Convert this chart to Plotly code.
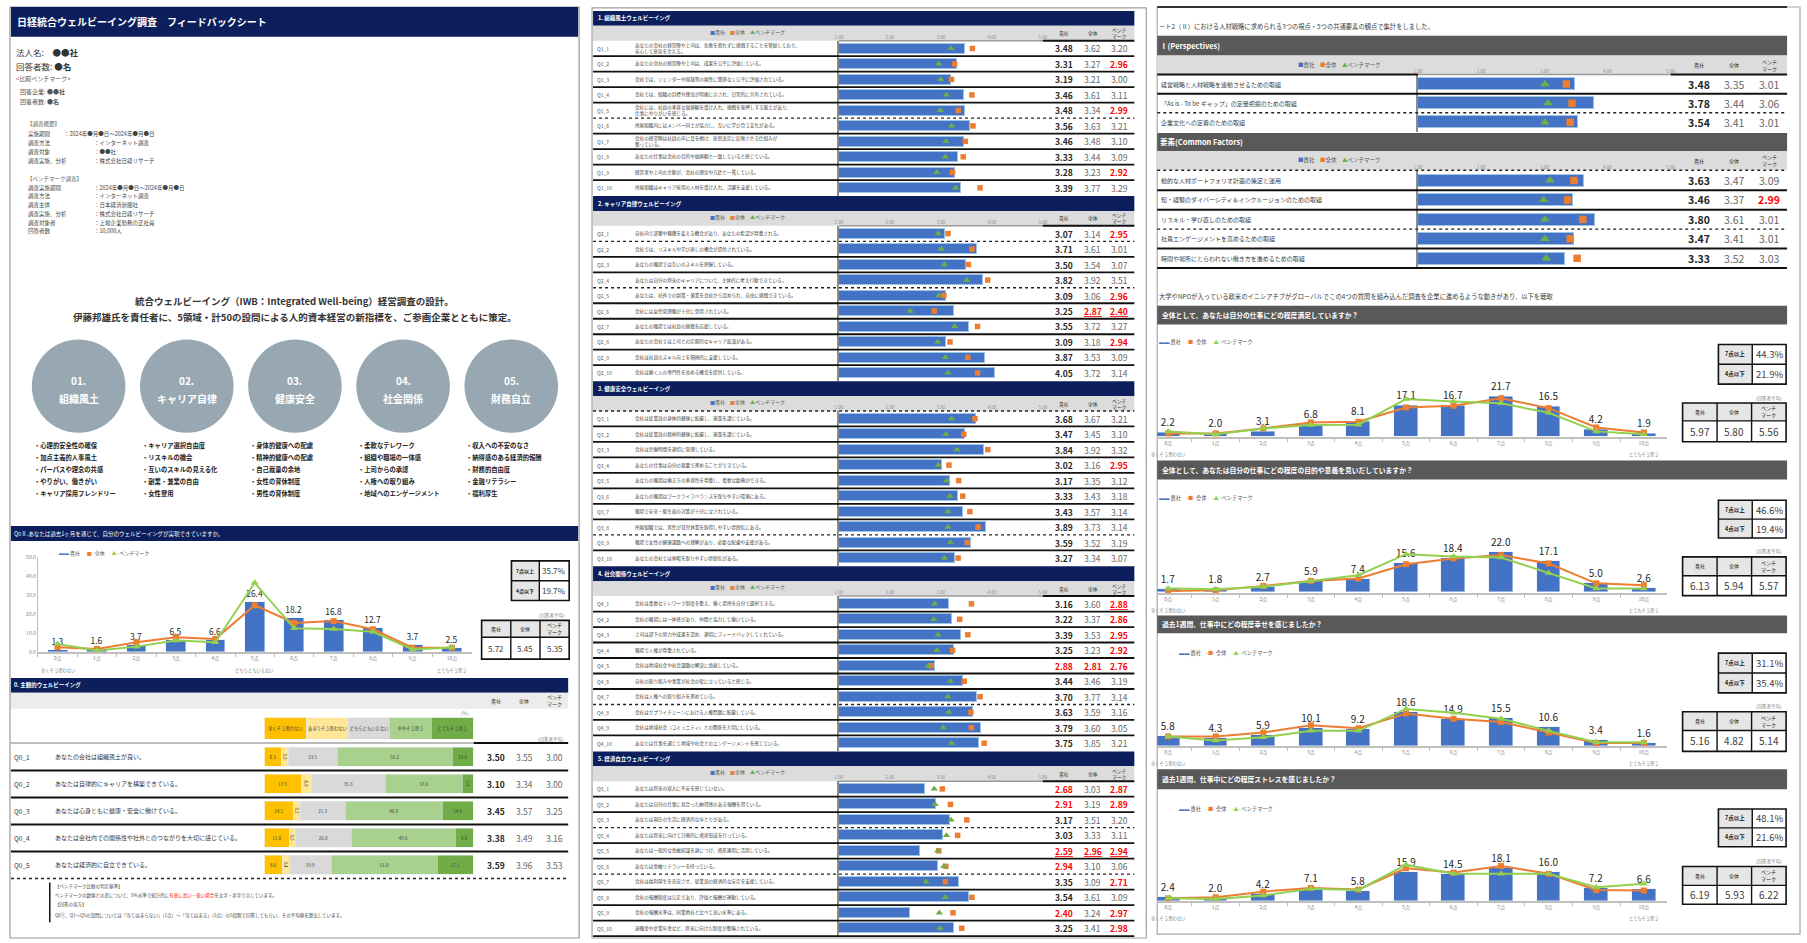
import plotly.graph_objects as go

W, H = 1807, 943
FONT = "Noto Sans CJK JP"
NAVY = "#0c1f5c"
DGRAY = "#595959"
LGRAY = "#dcdcdc"
BLUE = "#4472c4"
ORANGE = "#ed7d31"
GREEN_T = "#70ad47"
GREEN_L = "#92d050"
RED = "#ff0000"

# ============================ DATA ============================
# ---- page 1 : profile ----
header_title = "日経統合ウェルビーイング調査　フィードバックシート"
company_name = "●●社"
respondents = "●名"
bench_companies = "●●社"
bench_respondents = "●名"
outline_keys = ["実施期間", "調査方法", "調査対象", "調査実施、分析"]
outline_vals = ["2024年●月●日～2024年●月●日", "インターネット調査", "●●社", "株式会社日経リサーチ"]
bench_keys = ["調査実施期間", "調査方法", "調査主体", "調査実施、分析", "調査対象者", "回答者数"]
bench_vals = ["2024年●月●日～2024年●月●日", "インターネット調査", "日本経済新聞社", "株式会社日経リサーチ",
              "上場企業勤務の正社員", "10,000人"]
headline_1 = "統合ウェルビーイング（IWB：Integrated Well-being）経営調査の設計。"
headline_2 = "伊藤邦雄氏を責任者に、5領域・計50の設問による人的資本経営の新指標を、ご参画企業とともに策定。"

domain_numbers = ["01.", "02.", "03.", "04.", "05."]
domain_names = ["組織風土", "キャリア自律", "健康安全", "社会関係", "財務自立"]
domain_items_1 = ["心理的安全性の確保", "加点主義的人事風土", "パーパスや理念の共感", "やりがい、働きがい", "キャリア採用フレンドリー"]
domain_items_2 = ["キャリア選択自由度", "リスキルの機会", "互いのスキルの見える化", "副業・兼業の自由", "女性登用"]
domain_items_3 = ["身体的健康への配慮", "精神的健康への配慮", "自己裁量の余地", "女性の育休制度", "男性の育休制度"]
domain_items_4 = ["柔軟なテレワーク", "組織や職場の一体感", "上司からの承認", "人権への取り組み", "地域へのエンゲージメント"]
domain_items_5 = ["収入への不安のなさ", "納得感のある経済的報酬", "財務的自由度", "金融リテラシー", "福利厚生"]

# ---- page 1 : Q0 distribution ----
q0_title = "Q0Ⅱ.あなたは過去1ヶ月を通じて、自分のウェルビーイングが実現できていますか。"
score_ticks = ["0点", "1点", "2点", "3点", "4点", "5点", "6点", "7点", "8点", "9点", "10点"]
q0_company = [1.3, 1.6, 3.7, 6.5, 6.6, 26.4, 18.2, 16.8, 12.7, 3.7, 2.5]
q0_total = [2.6, 1.7, 5.2, 7.8, 6.9, 24.6, 15.3, 16.3, 12.0, 2.3, 2.3]
q0_bench = [4.3, 0.9, 2.9, 6.1, 5.2, 36.4, 12.5, 12.1, 10.7, 1.4, 2.4]
q0_yticks = [0, 10, 20, 30, 40, 50]
q0_share = ["35.7%", "19.7%"]
q0_avg = [5.72, 5.45, 5.35]
share_labels = ["7点以上", "4点以下"]
col_headers = ["貴社", "全体", "ベンチ<br>マーク"]
legend_names = ["貴社", "全体", "ベンチマーク"]

# ---- page 1 : subjective well-being (5 questions) ----
sub_title = "0. 主観的ウェルビーイング"
likert_labels = ["全くそう思わない", "あまりそう思わない", "どちらともいえない", "ややそう思う", "とてもそう思う"]
sub_ids = ["Q0_1", "Q0_2", "Q0_3", "Q0_4", "Q0_5"]
sub_questions = ["あなたの会社は組織風土が良い。",
                 "あなたは自律的にキャリアを構築できている。",
                 "あなたは心身ともに健康・安全に働けている。",
                 "あなたは会社内での関係性や社外とのつながりを大切に感じている。",
                 "あなたは経済的に自立できている。"]
sub_dist_1 = [8.3, 17.5, 14.1, 11.8, 8.6]
sub_dist_2 = [3.0, 4.9, 3.2, 3.0, 3.4]
sub_dist_3 = [23.5, 35.3, 21.3, 26.8, 19.9]
sub_dist_4 = [55.2, 37.0, 46.8, 49.6, 51.0]
sub_dist_5 = [10.0, 5.3, 14.6, 8.8, 17.1]
sub_company = [3.50, 3.10, 3.45, 3.38, 3.59]
sub_total = [3.55, 3.34, 3.57, 3.49, 3.96]
sub_bench = [3.00, 3.00, 3.25, 3.16, 3.53]

# ---- page 2 : five domains x 10 questions ----
bar_ticks = ["1.00", "2.00", "3.00", "4.00", "5.00"]
s1_title = "1. 組織風土ウェルビーイング"
s1_questions = ["あなたの会社の経営陣や上司は、失敗を恐れずに挑戦することを奨励しており、<br>安心して意見を言える。",
                "あなたの会社の経営陣や上司は、成果を公平に評価している。",
                "会社では、ジェンダーや国籍等の属性に関係なく公平に評価されている。",
                "会社では、組織の目標や理念が明確に示され、日常的に共有されている。",
                "会社には、社員の多様な価値観を受け入れ、挑戦を後押しする風土があり、<br>仕事にやりがいを感じる。",
                "所属組織内にはメンバー同士が協力し、互いに学び合う文化がある。",
                "会社の経営陣は社員の声に耳を傾け、意思決定に反映させる仕組みが<br>整っている。",
                "あなたの仕事は会社の目的や価値観と一致していると感じている。",
                "経営者や上司の言動が、会社の理念や方針と一貫している。",
                "所属組織はキャリア採用の人材を受け入れ、活躍を支援している。"]
s1_company = [3.48, 3.31, 3.19, 3.46, 3.48, 3.56, 3.46, 3.33, 3.28, 3.39]
s1_total = [3.62, 3.27, 3.21, 3.61, 3.34, 3.63, 3.48, 3.44, 3.23, 3.77]
s1_bench = [3.20, 2.96, 3.00, 3.11, 2.99, 3.21, 3.10, 3.09, 2.92, 3.29]

s2_title = "2. キャリア自律ウェルビーイング"
s2_questions = ["自社内で部署や職種を変える機会があり、あなたの希望が尊重される。",
                "会社では、リスキルや学び直しの機会が提供されている。",
                "あなたの職場では互いのスキルを把握している。",
                "あなたは自分の将来のキャリアについて、主体的に考え行動できている。",
                "あなたは、社外での副業・兼業を会社から認められ、自由に挑戦できている。",
                "会社には女性管理職が十分に登用されている。",
                "あなたの職場では社員の挑戦を応援している。",
                "あなたの会社では上司との定期的なキャリア面談がある。",
                "会社は社員のスキル向上を積極的に支援している。",
                "会社は働く人の専門性を高める機会を提供している。"]
s2_company = [3.07, 3.71, 3.50, 3.82, 3.09, 3.25, 3.55, 3.09, 3.87, 4.05]
s2_total = [3.14, 3.61, 3.54, 3.92, 3.06, 2.87, 3.72, 3.18, 3.53, 3.72]
s2_bench = [2.95, 3.01, 3.07, 3.51, 2.96, 2.40, 3.27, 2.94, 3.09, 3.14]

s3_title = "3. 健康安全ウェルビーイング"
s3_questions = ["会社は従業員の身体的健康に配慮し、施策を講じている。",
                "会社は従業員の精神的健康に配慮し、施策を講じている。",
                "会社は労働時間を適切に管理している。",
                "あなたの仕事は自分の裁量で進めることができている。",
                "あなたの職場は働き方の多様性を尊重し、柔軟な勤務ができる。",
                "あなたの職場はワークライフバランスを保ちやすい環境にある。",
                "職場で安全・衛生面の対策が十分になされている。",
                "所属組織では、男性が育児休業を取得しやすい雰囲気にある。",
                "職場で女性の健康課題への理解があり、必要な配慮や支援がある。",
                "あなたの会社では休暇を取りやすい雰囲気がある。"]
s3_company = [3.68, 3.47, 3.84, 3.02, 3.17, 3.33, 3.43, 3.89, 3.59, 3.27]
s3_total = [3.67, 3.45, 3.92, 3.16, 3.35, 3.43, 3.57, 3.73, 3.52, 3.34]
s3_bench = [3.21, 3.10, 3.32, 2.95, 3.12, 3.18, 3.14, 3.14, 3.19, 3.07]

s4_title = "4. 社会関係ウェルビーイング"
s4_questions = ["会社は柔軟なテレワーク制度を整え、働く場所を自分で選択できる。",
                "会社の職場には一体感があり、仲間と協力して働いている。",
                "上司は部下の努力や成果を認め、適切にフィードバックしてくれている。",
                "職場で人権が尊重されている。",
                "会社は地域社会や社会課題の解決に貢献している。",
                "自社の取り組みや事業が社会の役に立っていると感じる。",
                "会社は人権への取り組みを進めている。",
                "会社はサプライチェーンにおける人権問題に配慮している。",
                "会社は地域社会（コミュニティ）との関係を大切にしている。",
                "あなたは仕事を通じて地域や社会とのエンゲージメントを感じている。"]
s4_company = [3.16, 3.22, 3.39, 3.25, 2.88, 3.44, 3.70, 3.63, 3.79, 3.75]
s4_total = [3.60, 3.37, 3.53, 3.23, 2.81, 3.46, 3.77, 3.59, 3.60, 3.85]
s4_bench = [2.88, 2.86, 2.95, 2.92, 2.76, 3.19, 3.14, 3.16, 3.05, 3.21]

s5_title = "5. 経済自立ウェルビーイング"
s5_questions = ["あなたは将来の収入に不安を感じていない。",
                "あなたは自分の仕事に見合った納得感のある報酬を得ている。",
                "あなたは現在の生活に経済的なゆとりがある。",
                "あなたは将来に向けて計画的に資産形成を行っている。",
                "あなたは一般的な金融知識を身につけ、資産運用に活用している。",
                "あなたは金融リテラシーを持っている。",
                "会社は福利厚生を充実させ、従業員の経済的な安定を支援している。",
                "会社の報酬制度は公正であり、評価と報酬が連動している。",
                "会社の報酬水準は、同業他社と比べて高い水準にある。",
                "退職金や企業年金など、将来に向けた制度が整備されている。"]
s5_company = [2.68, 2.91, 3.17, 3.03, 2.59, 2.94, 3.35, 3.54, 2.40, 3.25]
s5_total = [3.03, 3.19, 3.51, 3.33, 2.96, 3.10, 3.09, 3.61, 3.24, 3.41]
s5_bench = [2.87, 2.89, 3.20, 3.11, 2.94, 3.06, 2.71, 3.09, 2.97, 2.98]

underline_marks = [("2", 5, 1), ("2", 5, 2), ("4", 0, 2), ("5", 4, 0), ("5", 4, 1), ("5", 4, 2)]

# ---- page 3 ----
intro_1 = "ート2（Ⅱ）における人材戦略に求められる3つの視点・5つの共通要素の観点で集計をしました。"
persp_title = "Ⅰ(Perspectives)"
persp_labels = ["経営戦略と人材戦略を連動させるための取組",
                "「As is - To be ギャップ」の定量把握のための取組",
                "企業文化への定着のための取組"]
persp_company = [3.48, 3.78, 3.54]
persp_total = [3.35, 3.44, 3.41]
persp_bench = [3.01, 3.06, 3.01]
common_title = "要素(Common Factors)"
common_labels = ["動的な人材ポートフォリオ計画の策定と運用",
                 "知・経験のダイバーシティ＆インクルージョンのための取組",
                 "リスキル・学び直しのための取組",
                 "社員エンゲージメントを高めるための取組",
                 "時間や場所にとらわれない働き方を進めるための取組"]
common_company = [3.63, 3.46, 3.80, 3.47, 3.33]
common_total = [3.47, 3.37, 3.61, 3.41, 3.52]
common_bench = [3.09, 2.99, 3.01, 3.01, 3.03]
intro_2 = "大学やNPOが入っている欧米のイニシアチブがグローバルでこの4つの質問を組み込んだ調査を企業に進めるような動きがあり、以下を聴取"

c1_title = "全体として、あなたは自分の仕事にどの程度満足していますか？"
c1_company = [2.2, 2.0, 3.1, 6.8, 8.1, 17.1, 16.7, 21.7, 16.5, 4.2, 1.9]
c1_total = [1.8, 1.8, 4.5, 7.7, 8.1, 15.8, 16.7, 20.8, 15.4, 5.0, 2.3]
c1_bench = [2.9, 1.4, 4.5, 6.3, 6.5, 20.3, 19.0, 18.0, 12.9, 2.9, 1.4]
c1_share = ["44.3%", "21.9%"]
c1_avg = [5.97, 5.80, 5.56]

c2_title = "全体として、あなたは自分の仕事にどの程度の目的や意義を見いだしていますか？"
c2_company = [1.7, 1.8, 2.7, 5.9, 7.4, 15.6, 18.4, 22.0, 17.1, 5.0, 2.6]
c2_total = [0.9, 1.3, 3.6, 6.3, 7.6, 15.3, 18.4, 20.2, 15.7, 5.0, 4.0]
c2_bench = [2.2, 1.8, 3.1, 6.3, 9.4, 20.7, 19.5, 18.9, 10.5, 2.2, 2.2]
c2_share = ["46.6%", "19.4%"]
c2_avg = [6.13, 5.94, 5.57]

c3_title = "過去1週間、仕事中にどの程度幸せを感じましたか？"
c3_company = [5.8, 4.3, 5.9, 10.1, 9.2, 18.6, 14.9, 15.5, 10.6, 3.4, 1.6]
c3_total = [5.4, 5.4, 7.5, 11.4, 9.8, 17.7, 14.9, 13.2, 7.5, 1.9, 1.9]
c3_bench = [5.4, 3.2, 4.9, 8.4, 8.4, 20.2, 18.1, 14.9, 8.4, 2.3, 2.3]
c3_share = ["31.1%", "35.4%"]
c3_avg = [5.16, 4.82, 5.14]

c4_title = "過去1週間、仕事中にどの程度ストレスを感じましたか？"
c4_company = [2.4, 2.0, 4.2, 7.1, 5.8, 15.9, 14.5, 18.1, 16.0, 7.2, 6.6]
c4_total = [1.6, 2.2, 5.2, 7.2, 6.3, 17.8, 15.5, 19.0, 14.8, 6.1, 5.8]
c4_bench = [1.6, 1.3, 3.1, 6.7, 6.1, 19.6, 14.8, 14.8, 14.8, 7.6, 9.4]
c4_share = ["48.1%", "21.6%"]
c4_avg = [6.19, 5.93, 6.22]

# ============================ HELPERS ============================
shapes, annos, traces, axes = [], [], [], {}
_n = [0]


def T(x, y, s, size=6, color="#333333", xa="left", ya="middle", bold=False, xref="paper"):
    if bold:
        s = "<b>" + s + "</b>"
    annos.append(dict(x=(x / W if xref == "paper" else x), y=1 - y / H, xref=xref, yref="paper", text=s,
                      showarrow=False, xanchor=xa, yanchor=ya, borderpad=0,
                      align={"left": "left", "right": "right"}.get(xa, "center"),
                      font=dict(size=size, color=color, family=FONT)))


def R(x0, y0, x1, y1, fill="rgba(0,0,0,0)", line="rgba(0,0,0,0)", lw=0, layer="below"):
    shapes.append(dict(type="rect", xref="paper", yref="paper", x0=x0 / W, x1=x1 / W, y0=1 - y1 / H,
                       y1=1 - y0 / H, fillcolor=fill, line=dict(color=line, width=lw), layer=layer))


def L(x0, y0, x1, y1, color="#000000", lw=1, dash="solid", layer="above"):
    shapes.append(dict(type="line", xref="paper", yref="paper", x0=x0 / W, x1=x1 / W, y0=1 - y0 / H,
                       y1=1 - y1 / H, line=dict(color=color, width=lw, dash=dash), layer=layer))


def C(cx, cy, r, fill):
    shapes.append(dict(type="circle", xref="paper", yref="paper", x0=(cx - r) / W, x1=(cx + r) / W,
                       y0=1 - (cy + r) / H, y1=1 - (cy - r) / H, fillcolor=fill, line=dict(width=0),
                       layer="below"))


def AX(xpx, ypx, xa, ya):
    _n[0] += 1
    s = "" if _n[0] == 1 else str(_n[0])
    bx = dict(domain=[xpx[0] / W, xpx[1] / W], anchor="y" + s, showgrid=False, zeroline=False, fixedrange=True)
    by = dict(domain=[1 - ypx[1] / H, 1 - ypx[0] / H], anchor="x" + s, showgrid=False, zeroline=False,
              fixedrange=True)
    bx.update(xa)
    by.update(ya)
    axes["xaxis" + s] = bx
    axes["yaxis" + s] = by
    return "x" + s, "y" + s


def legend_html():
    return ("<span style='color:%s'>▬▬</span> %s　<span style='color:%s'>-■-</span> %s　"
            "<span style='color:%s'>-▲-</span> %s" % (BLUE, legend_names[0], ORANGE, legend_names[1],
                                                      GREEN_L, legend_names[2]))


def legend_small():
    return ("<span style='color:%s'>■</span>%s　<span style='color:%s'>■</span>%s　"
            "<span style='color:%s'>▲</span>%s" % (BLUE, legend_names[0], ORANGE, legend_names[1],
                                                    GREEN_T, legend_names[2]))


def fmt(v):
    return "%.2f" % v


def table2(x0, xm, x1, y0, y1, values, lsize, vsize):
    ym = (y0 + y1) / 2
    R(x0, y0, xm, y1, fill="#e6e6e6")
    R(x0, y0, x1, y1, line="#111111", lw=1.6, layer="above")
    L(x0, ym, x1, ym, "#111111", 1.4)
    L(xm, y0, xm, y1, "#111111", 1.4)
    for i, (lab, val) in enumerate(zip(share_labels, values)):
        yc = y0 + (ym - y0) * (i + 0.5)
        T((x0 + xm) / 2, yc, lab, lsize, "#222222", "center", bold=True)
        T((xm + x1) / 2, yc, val, vsize, "#404040", "center")


def table3(x0, x1, y0, ys, y1, values, hsize, vsize):
    R(x0, y0, x1, ys, fill="#e6e6e6")
    R(x0, y0, x1, y1, line="#111111", lw=1.6, layer="above")
    L(x0, ys, x1, ys, "#111111", 1.4)
    cw = (x1 - x0) / 3
    for k in (1, 2):
        L(x0 + cw * k, y0, x0 + cw * k, y1, "#111111", 1.4)
    for k in range(3):
        T(x0 + cw * (k + 0.5), (y0 + ys) / 2, col_headers[k], hsize, "#222222", "center")
        T(x0 + cw * (k + 0.5), (ys + y1) / 2, fmt(values[k]), vsize, "#404040", "center")
    T(x1, y0 - 5, "（回答者平均）", 4.5, "#7f7f7f", "right")


def combo_chart(xpx, base, top, xrange, cats, comp, tot, bench, label_size, show_y):
    xr, yr = AX(xpx, (top, base),
                dict(type="category", categoryorder="array", categoryarray=cats, range=xrange,
                     showline=True, linecolor="#bfbfbf", linewidth=2, ticks="outside", tickson="boundaries",
                     ticklen=3, tickcolor="#bfbfbf", tickfont=dict(size=5, color="#7f7f7f", family=FONT)),
                dict(range=[0, 46 if not show_y else 50], visible=show_y, showline=show_y, linecolor="#bfbfbf",
                     tickvals=q0_yticks, ticktext=["%.1f" % v for v in q0_yticks],
                     tickfont=dict(size=5, color="#7f7f7f"), ticks=""))
    traces.append(go.Bar(x=cats, y=comp, xaxis=xr, yaxis=yr, marker=dict(color=BLUE), width=0.5,
                         texttemplate="%{y:.1f}", textposition="outside", cliponaxis=False,
                         textfont=dict(size=label_size, color="#262626", family=FONT)))
    traces.append(go.Scatter(x=cats, y=tot, xaxis=xr, yaxis=yr, mode="lines+markers", cliponaxis=False,
                             line=dict(color=ORANGE, width=2),
                             marker=dict(symbol="square", size=6, color=ORANGE)))
    traces.append(go.Scatter(x=cats, y=bench, xaxis=xr, yaxis=yr, mode="lines+markers", cliponaxis=False,
                             line=dict(color=GREEN_L, width=2),
                             marker=dict(symbol="triangle-up", size=7, color=GREEN_L)))
    return xr


def hbar_block(xpx, ypx, n, comp, tot, bench, bar_w, sq, tri):
    xr, yr = AX(xpx, ypx,
                dict(range=[1, 5], side="top", tickvals=[1, 2, 3, 4, 5], ticktext=bar_ticks, ticks="",
                     showline=False, tickfont=dict(size=4.5, color="#8c8c8c", family=FONT)),
                dict(range=[n - 0.5, -0.5], showticklabels=False, ticks="", showline=True,
                     linecolor="#8c8c8c", linewidth=1.5))
    rows = list(range(n))
    traces.append(go.Bar(x=comp, y=rows, orientation="h", xaxis=xr, yaxis=yr, width=bar_w,
                         marker=dict(color=BLUE, line=dict(color="#9dc3e6", width=1))))
    traces.append(go.Scatter(x=tot, y=rows, xaxis=xr, yaxis=yr, mode="markers", cliponaxis=False,
                             marker=dict(symbol="square", size=sq, color=ORANGE)))
    traces.append(go.Scatter(x=bench, y=rows, xaxis=xr, yaxis=yr, mode="markers", cliponaxis=False,
                             marker=dict(symbol="triangle-up", size=tri, color=GREEN_T)))


def value_text(x, y, v, size, first, ul=False):
    s = fmt(v)
    if ul:
        s = "<u>" + s + "</u>"
    if v < 3.0:
        col = RED
    else:
        col = "#262626" if first else "#666666"
    T(x, y, s, size, col, "center", bold=first or v < 3.0)


# ============================ PAGE 1 ============================
R(6, 3, 578, 941, line="#9a9a9a", lw=1.2)
R(7, 3, 577, 33, fill=NAVY)
T(12, 18, header_title, 10, "white", bold=True)
T(11, 48, "法人名:　<b>" + company_name + "</b>", 8.5, "#333333")
T(11, 62, "回答者数: <b>" + respondents + "</b>", 8.5, "#333333")
T(11, 75, "<比較ベンチマーク>", 6, "#555555")
T(15, 88, "回答企業: <b>" + bench_companies + "</b>", 6, "#555555")
T(15, 98, "回答者数: <b>" + bench_respondents + "</b>", 6, "#555555")
T(22, 121, "【調査概要】", 5.5, "#666666")
for i, (k, v) in enumerate(zip(outline_keys, outline_vals)):
    T(23, 131 + 9 * i, k, 5.5, "#444444")
    T(59 if i == 0 else 89, 131 + 9 * i, "：" + v, 5.5, "#444444")
T(22, 176, "【ベンチマーク調査】", 5.5, "#666666")
for i, (k, v) in enumerate(zip(bench_keys, bench_vals)):
    T(23, 185 + 8.8 * i, k, 5.5, "#444444")
    T(89, 185 + 8.8 * i, "：" + v, 5.5, "#444444")
T(292, 299, headline_1, 9.5, "#333333", "center", bold=True)
T(292, 315, headline_2, 9.5, "#333333", "center", bold=True)

domain_items = [domain_items_1, domain_items_2, domain_items_3, domain_items_4, domain_items_5]
for i in range(5):
    cx = 75 + 108.7 * i
    C(cx, 385, 47, "#97a8b2")
    T(cx, 379, domain_numbers[i], 10, "white", "center", bold=True)
    T(cx, 397, domain_names[i], 10, "white", "center", bold=True)
    for j, item in enumerate(domain_items[i]):
        T(cx - 46, 445 + 12 * j, "・" + item, 6.3, "#222222", bold=True)

# Q0 chart
R(7, 526, 577, 541, fill=NAVY)
T(9, 533.5, q0_title, 5.5, "white")
T(54, 553, legend_html(), 5, "#595959")
q0x = combo_chart((34, 470), 653, 557, [-0.5, 10.5], score_ticks, q0_company, q0_total, q0_bench, 8.5, True)
for cat, lab in ((score_ticks[0], likert_labels[0]), (score_ticks[5], likert_labels[2]), (score_ticks[10], likert_labels[4])):
    annos.append(dict(x=cat, y=1 - 667 / H, xref=q0x, yref="paper", text=lab, showarrow=False,
                      yanchor="top", borderpad=0, font=dict(size=4.3, color="#7f7f7f", family=FONT)))
table2(510, 538, 568, 561, 601, q0_share, 5, 8)
table3(480, 568, 621, 638, 660, q0_avg, 5, 8)

# subjective well-being block
R(7, 679, 567, 694, fill=NAVY)
T(9, 686.5, sub_title, 5.5, "white", bold=True)
R(7, 694, 567, 710, fill="#ececec")
for x, h in zip((494, 523, 553), col_headers):
    T(x, 702, h, 5, "#333333", "center")
T(470, 714, "（%）", 4.5, "#7f7f7f", "right")
likert_colors = ["#ffc000", "#ffe699", "#d9d9d9", "#a9d18e", "#70ad47"]
lx, ly = AX((262, 472), (719, 741), dict(range=[0, 100], visible=False), dict(range=[-0.5, 0.5], visible=False))
for lab, col in zip(likert_labels, likert_colors):
    traces.append(go.Bar(x=[100 / len(likert_labels)], y=[0], orientation="h", xaxis=lx, yaxis=ly, width=1,
                         marker=dict(color=col), text=[lab], texttemplate="%{text}", textposition="inside",
                         insidetextanchor="middle", constraintext="none",
                         textfont=dict(size=4.3, color="#404040", family=FONT)))
T(567, 741, "（回答者平均）", 4.5, "#7f7f7f", "right")
L(7, 744.5, 472, 744.5, "#a6a6a6", 1.5)
L(472, 744.5, 567, 744.5, "#111111", 2)
sx, sy = AX((262, 472), (745, 881), dict(range=[0, 100], visible=False),
            dict(range=[4.5, -0.5], visible=False))
for dist, col in zip([sub_dist_1, sub_dist_2, sub_dist_3, sub_dist_4, sub_dist_5], likert_colors):
    traces.append(go.Bar(x=dist, y=list(range(5)), orientation="h", xaxis=sx, yaxis=sy, width=0.74,
                         marker=dict(color=col), texttemplate="%{x:.1f}", textposition="inside",
                         insidetextanchor="middle", constraintext="none",
                         textfont=dict(size=4.5, color="#404040", family=FONT)))
row_h0 = (881 - 745) / 5
for i in range(5):
    yc = 745 + row_h0 * (i + 0.5)
    T(9, yc, sub_ids[i], 6.5, "#333333")
    T(50, yc, sub_questions[i], 6, "#333333")
    value_text(494, yc, sub_company[i], 8.5, True)
    value_text(523, yc, sub_total[i], 8.5, False)
    value_text(553, yc, sub_bench[i], 8.5, False)
    yb = 745 + row_h0 * (i + 1)
    if i < 4:
        L(7, yb, 567, yb, "#111111", 2)
    else:
        L(7, yb, 567, yb, "#222222", 1.5, "dot")
L(46, 885, 46, 925, "#111111", 1.5)
T(50, 889, "【ベンチマーク比較の判定基準】", 4.5, "#444444")
T(50, 898, "ベンチマークの数値との差について、5%水準で統計的に<span style='color:#ff0000'>有意に高い・低い場合</span>を太字・赤字で示しています。", 4.5, "#444444")
T(50, 907, "【回答の見方】", 4.5, "#444444")
T(50, 918, "Q0①、Q1～Q5の設問については「当てはまらない」（1点）～「当てはまる」（5点）の5段階で回答してもらい、その平均値を算出しています。", 4.5, "#444444")

# ============================ PAGE 2 ============================
R(591, 4, 1148, 941, line="#a0a0a0", lw=1.2)
sections = [
    ("1", s1_title, s1_questions, s1_company, s1_total, s1_bench, [4]),
    ("2", s2_title, s2_questions, s2_company, s2_total, s2_bench, [0, 3]),
    ("3", s3_title, s3_questions, s3_company, s3_total, s3_bench, [-1, 7]),
    ("4", s4_title, s4_questions, s4_company, s4_total, s4_bench, [6]),
    ("5", s5_title, s5_questions, s5_company, s5_total, s5_bench, [2, 5]),
]
ROW = 15.6
for k, (sid, title, qs, comp, tot, bench, dotted) in enumerate(sections):
    y0 = 7 + 186.5 * k
    R(592, y0, 1136, y0 + 15, fill=NAVY)
    T(596, y0 + 7.5, title, 5.5, "white", bold=True)
    R(592, y0 + 15, 1136, y0 + 30, fill=LGRAY)
    T(747, y0 + 21, legend_small(), 5, "#595959", "center")
    for x, h in zip((1065, 1094, 1121), col_headers):
        T(x, y0 + 22.5, h, 4.8, "#333333", "center")
    top = y0 + 30
    if -1 in dotted:
        L(592, top, 1136, top, "#222222", 1.4, "dot")
    else:
        L(839, top, 1044, top, "#9a9a9a", 1.5)
        L(1044, top, 1136, top, "#111111", 2)
    hbar_block((839, 1044), (top, top + 10 * ROW), 10, comp, tot, bench, 0.66, 5.5, 6.5)
    for j in range(10):
        yc = top + ROW * (j + 0.5)
        T(595, yc, "Q%s_%d" % (sid, j + 1), 5, "#555555")
        T(633, yc, qs[j], 4.6, "#444444")
        for c, (x, arr) in enumerate(zip((1065, 1094, 1121), (comp, tot, bench))):
            value_text(x, yc, arr[j], 8.5, c == 0, (sid, j, c) in underline_marks)
        yb = top + ROW * (j + 1)
        if j in dotted:
            L(592, yb, 1136, yb, "#222222", 1.4, "dot")
        elif j < 9 or k == 4:
            L(592, yb, 1136, yb, "#111111", 1.8)

# ============================ PAGE 3 ============================
R(1159, 3, 1805, 937, line="#a8a8a8", lw=1.2)
L(1159, 3, 1792, 3, "#333333", 2)
T(1160, 23, intro_1, 6.3, "#404040")

# perspectives
R(1159, 32, 1792, 52, fill=DGRAY)
T(1161, 42, persp_title, 7.5, "white", bold=True)
R(1159, 52, 1792, 71, fill=LGRAY)
T(1342, 61, legend_small(), 5.5, "#595959", "center")
for x, h in zip((1703, 1739, 1774), col_headers):
    T(x, 61.5, h, 5, "#333333", "center")
L(1159, 71, 1421, 71, "#111111", 2)
L(1421, 71, 1675, 71, "#9a9a9a", 1.5)
L(1675, 71, 1792, 71, "#111111", 2)
p_top, p_row = 71, 19.3
hbar_block((1421, 1675), (p_top, p_top + 3 * p_row), 3, persp_company, persp_total, persp_bench, 0.62, 7.5, 8.5)
for j in range(3):
    yc = p_top + p_row * (j + 0.5)
    T(1162, yc, persp_labels[j], 6, "#404040")
    for c, (x, arr) in enumerate(zip((1703, 1739, 1774), (persp_company, persp_total, persp_bench))):
        value_text(x, yc, arr[j], 10.5, c == 0)
    yb = p_top + p_row * (j + 1)
    if j == 0:
        L(1159, yb, 1792, yb, "#111111", 2)
    elif j == 1:
        L(1159, yb, 1792, yb, "#222222", 1.4, "dot")

# common factors
R(1159, 130, 1792, 148, fill=DGRAY)
T(1161, 139, common_title, 7.5, "white", bold=True)
R(1159, 148, 1792, 167, fill=LGRAY)
T(1342, 157.5, legend_small(), 5.5, "#595959", "center")
for x, h in zip((1703, 1739, 1774), col_headers):
    T(x, 158, h, 5, "#333333", "center")
L(1159, 167.5, 1792, 167.5, "#222222", 1.4, "dot")
c_top, c_row = 168, 19.6
hbar_block((1421, 1675), (c_top, c_top + 5 * c_row), 5, common_company, common_total, common_bench, 0.62, 7.5, 8.5)
for j in range(5):
    yc = c_top + c_row * (j + 0.5)
    T(1162, yc, common_labels[j], 6, "#404040")
    for c, (x, arr) in enumerate(zip((1703, 1739, 1774), (common_company, common_total, common_bench))):
        value_text(x, yc, arr[j], 10.5, c == 0)
    yb = c_top + c_row * (j + 1)
    if j == 2:
        L(1159, yb, 1792, yb, "#222222", 1.4, "dot")
    else:
        L(1159, yb, 1792, yb, "#111111", 2)

T(1160, 295, intro_2, 6.3, "#404040")

charts = [
    (c1_title, c1_company, c1_total, c1_bench, c1_share, c1_avg),
    (c2_title, c2_company, c2_total, c2_bench, c2_share, c2_avg),
    (c3_title, c3_company, c3_total, c3_bench, c3_share, c3_avg),
    (c4_title, c4_company, c4_total, c4_bench, c4_share, c4_avg),
]
chart_pos = [
    dict(bar=(304, 323), lx=1160, ly=341, base=436, t2=(343, 383), t3=(402, 420, 441)),
    dict(bar=(460, 479), lx=1160, ly=498, base=593, t2=(500, 538), t3=(557, 576, 596)),
    dict(bar=(616, 634), lx=1180, ly=654, base=748, t2=(654, 694), t3=(713, 732, 753)),
    dict(bar=(771, 791), lx=1180, ly=811, base=904, t2=(811, 849), t3=(869, 888, 907)),
]
for (title, comp, tot, bench, share, avg), p in zip(charts, chart_pos):
    R(1159, p["bar"][0], 1792, p["bar"][1], fill=DGRAY)
    T(1163, (p["bar"][0] + p["bar"][1]) / 2, title, 6.8, "white", bold=True)
    T(p["lx"], p["ly"], legend_html(), 5.2, "#595959")
    xr = combo_chart((1159, 1671), p["base"], p["base"] - 86, [-0.23, 10.48], score_ticks,
                     comp, tot, bench, 10, False)
    for cat, lab in ((score_ticks[0], likert_labels[0]), (score_ticks[10], likert_labels[4])):
        annos.append(dict(x=cat, y=1 - (p["base"] + 13) / H, xref=xr, yref="paper", text=lab, showarrow=False,
                          yanchor="top", borderpad=0, font=dict(size=4.3, color="#7f7f7f", family=FONT)))
    table2(1723, 1757, 1791, p["t2"][0], p["t2"][1], share, 5.5, 9.5)
    table3(1687, 1791, p["t3"][0], p["t3"][1], p["t3"][2], avg, 5, 10)

# ============================ FIGURE ============================
fig = go.Figure(data=traces)
fig.update_layout(width=W, height=H, margin=dict(l=0, r=0, t=0, b=0, pad=0), paper_bgcolor="white",
                  plot_bgcolor="rgba(0,0,0,0)", showlegend=False, barmode="stack", bargap=0,
                  font=dict(family=FONT, size=6, color="#333333"), shapes=shapes, annotations=annos,
                  **axes)
fig.write_html("out.html", config={"displayModeBar": False},
               post_script="document.body.style.margin='0';document.body.style.overflow='hidden';")
